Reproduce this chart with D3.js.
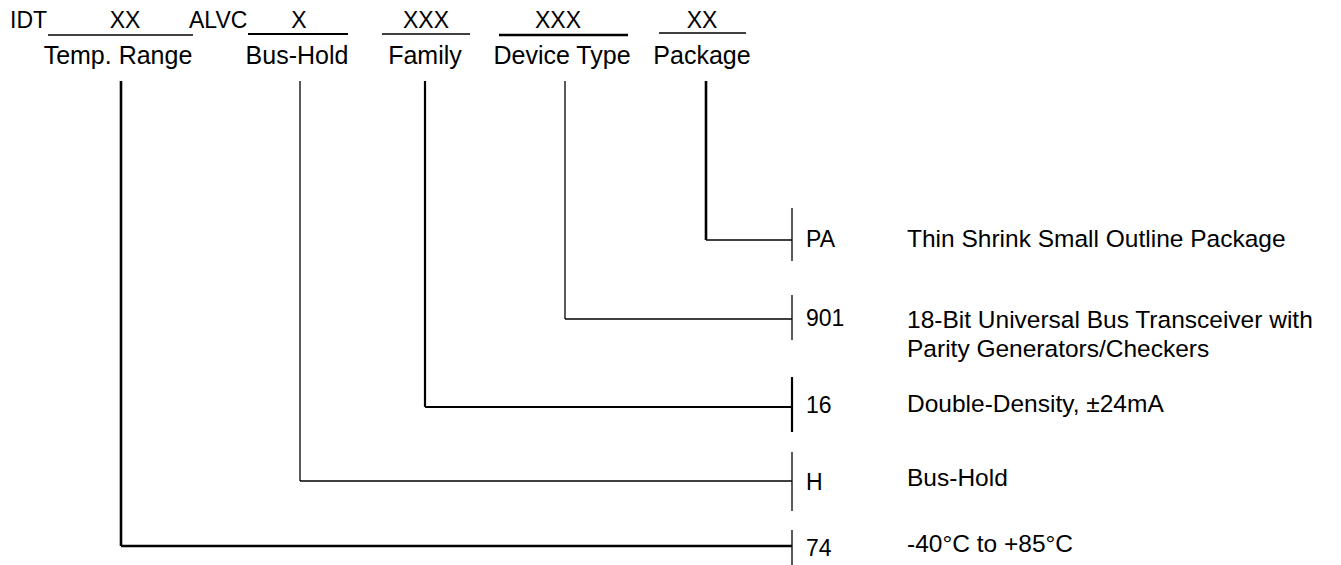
<!DOCTYPE html>
<html>
<head>
<meta charset="utf-8">
<script src="https://cdn.jsdelivr.net/npm/d3@7"></script>
<style>
  html, body { margin: 0; padding: 0; background: #fff; }
  svg { display: block; }
  text { font-family: "Liberation Sans", Arial, Helvetica, sans-serif; fill: #000; }
</style>
</head>
<body>
<svg id="chart" width="1341" height="565"></svg>
<script>
// ---- data ----
const prefix = "IDT";
const infix = "ALVC";
const fields = ["temp", "bushold", "family", "device", "package"];
const placeholders = ["XX", "X", "XXX", "XXX", "XX"];
const fieldLabels = ["Temp. Range", "Bus-Hold", "Family", "Device Type", "Package"];
const optionCodes = ["PA", "901", "16", "H", "74"];
const optionField = ["package", "device", "family", "bushold", "temp"];
const optionDescriptions = [
  ["Thin Shrink Small Outline Package"],
  ["18-Bit Universal Bus Transceiver with", "Parity Generators/Checkers"],
  ["Double-Density, \u00b124mA"],
  ["Bus-Hold"],
  ["-40\u00b0C to +85\u00b0C"]
];

// ---- layout ----
const svg = d3.select("#chart");
const fieldX = d3.scaleOrdinal().domain(fields).range([121, 300, 425, 565, 706]);
const placeholderX = d3.scaleOrdinal().domain(fields).range([125, 299, 426, 558, 702]);
const labelX = d3.scaleOrdinal().domain(fields).range([118, 297, 425, 562, 702]);
const underline = d3.scaleOrdinal().domain(fields).range([[48, 193], [248, 348], [382, 470], [499, 628], [659, 746]]);
const underlineY = d3.scaleOrdinal().domain(fields).range([35, 34, 34, 35, 33]);
const vWidth = d3.scaleOrdinal().domain(fields).range([2.6, 1.3, 2.2, 1.3, 2.6]);
const hWidth = d3.scaleOrdinal().domain(fields).range([2.6, 1.3, 2.0, 1.3, 1.4]);
const ulWidth = d3.scaleOrdinal().domain(fields).range([1.3, 2.2, 1.3, 2.4, 1.3]);

const optY = d3.scaleOrdinal().domain(optionCodes).range([240, 319, 407, 481, 546]);
const tickSpan = d3.scaleOrdinal().domain(optionCodes).range([[208, 261], [295, 340], [377, 432], [452, 511], [530, 566]]);
const tickW = d3.scaleOrdinal().domain(optionCodes).range([1.3, 1.3, 2.2, 1.3, 1.3]);
const codeBase = d3.scaleOrdinal().domain(optionCodes).range([247, 326, 413, 490, 556]);
const descBase = d3.scaleOrdinal().domain(optionCodes).range([247, 328, 412, 486, 552]);

const tickX = 792, codeX = 806, descX = 907, lineTop = 81;
const headSize = 23, labelSize = 25, codeSize = 23, descSize = 24.5;

// header
svg.append("text").attr("x", 10).attr("y", 28).attr("font-size", headSize).text(prefix);
svg.append("text").attr("x", 189).attr("y", 28).attr("font-size", headSize).text(infix);

const g = svg.selectAll("g.field").data(fields).join("g").attr("class", "field");
g.append("text")
  .attr("x", d => placeholderX(d)).attr("y", 28)
  .attr("text-anchor", "middle").attr("font-size", headSize)
  .text((d, i) => placeholders[i]);
g.append("line")
  .attr("x1", d => underline(d)[0]).attr("x2", d => underline(d)[1])
  .attr("y1", d => underlineY(d)).attr("y2", d => underlineY(d))
  .attr("stroke", "#000").attr("stroke-width", d => ulWidth(d));
g.append("text")
  .attr("x", d => labelX(d)).attr("y", 64)
  .attr("text-anchor", "middle").attr("font-size", labelSize)
  .text((d, i) => fieldLabels[i]);

// connectors
const opts = optionCodes.map((c, i) => ({ code: c, field: optionField[i], desc: optionDescriptions[i] }));
const og = svg.selectAll("g.opt").data(opts).join("g").attr("class", "opt");
og.append("line")
  .attr("x1", d => fieldX(d.field)).attr("x2", d => fieldX(d.field))
  .attr("y1", lineTop).attr("y2", d => optY(d.code))
  .attr("stroke", "#000").attr("stroke-width", d => vWidth(d.field));
og.append("line")
  .attr("x1", d => fieldX(d.field)).attr("x2", tickX)
  .attr("y1", d => optY(d.code)).attr("y2", d => optY(d.code))
  .attr("stroke", "#000").attr("stroke-width", d => hWidth(d.field));
og.append("line")
  .attr("x1", tickX).attr("x2", tickX)
  .attr("y1", d => tickSpan(d.code)[0]).attr("y2", d => tickSpan(d.code)[1])
  .attr("stroke", "#000").attr("stroke-width", d => tickW(d.code));
og.append("text")
  .attr("x", codeX).attr("y", d => codeBase(d.code))
  .attr("font-size", codeSize).text(d => d.code);
og.append("text")
  .attr("x", descX).attr("y", d => descBase(d.code))
  .attr("font-size", descSize)
  .selectAll("tspan").data(d => d.desc).join("tspan")
  .attr("x", descX).attr("dy", (d, i) => i === 0 ? 0 : 29)
  .text(d => d);
</script>
</body>
</html>
